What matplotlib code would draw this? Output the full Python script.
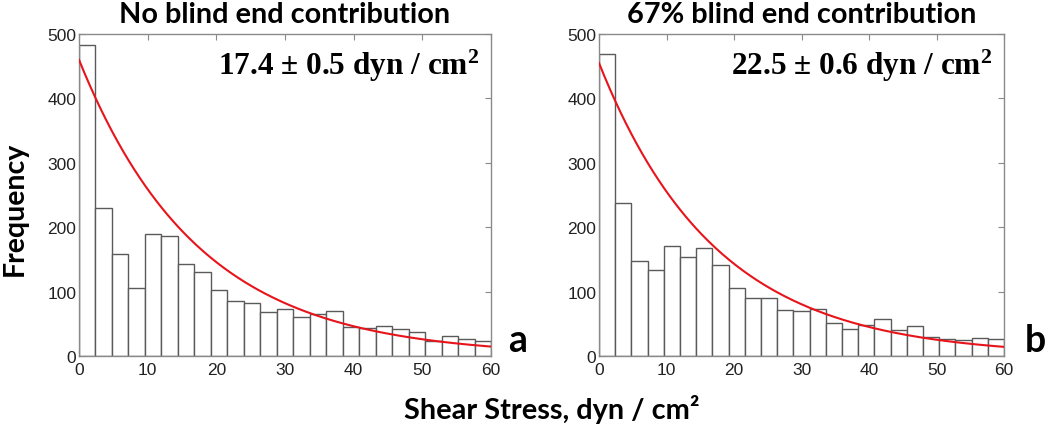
import numpy as np
import matplotlib
matplotlib.use('Agg')
import matplotlib.pyplot as plt

# histogram counts (25 bins of 2.4 dyn/cm2 between 0 and 60)
counts_a = [483, 230, 158, 105, 189, 186, 143, 130, 102, 85, 82, 68, 73,
            60, 65, 70, 45, 43, 46, 42, 37, 23, 31, 27, 24]
counts_b = [469, 237, 147, 133, 171, 154, 168, 142, 105, 90, 90, 72, 70,
            73, 51, 42, 48, 57, 40, 46, 30, 27, 25, 28, 27]

# exponential fit curves (amplitude, decay constant)
fit_a = (460, 17.4)
fit_b = (455, 17.3)

titles = ['No blind end contribution', '67% blind end contribution']
means = ['17.4 \u00b1 0.5 dyn / cm$^2$', '22.5 \u00b1 0.6 dyn / cm$^2$']
letters = ['a', 'b']

plt.rcParams['mathtext.fontset'] = 'custom'
plt.rcParams['mathtext.rm'] = 'Liberation Serif:bold'
plt.rcParams['mathtext.bf'] = 'Liberation Serif:bold'
plt.rcParams['mathtext.it'] = 'Liberation Serif:bold'

W, H = 1050, 427
fig = plt.figure(figsize=(W / 100, H / 100), dpi=100)

boxes = [(79, 412), (599, 405)]
edges = np.linspace(0, 60, 26)
spine_col = '#8a8a8a'

for i, counts in enumerate([counts_a, counts_b]):
    x0, w = boxes[i]
    ax = fig.add_axes([x0 / W, 70 / H, w / W, 322 / H])
    ax.bar(edges[:-1], counts, width=edges[1] - edges[0], align='edge',
           color='white', edgecolor='#5a5a5a', linewidth=1.0, zorder=2)
    amp, tau = [fit_a, fit_b][i]
    xs = np.linspace(0, 60, 300)
    ax.plot(xs, amp * np.exp(-xs / tau), color='#e8141b', lw=1.5, zorder=3)
    ax.set_xlim(0, 60)
    ax.set_ylim(0, 500)
    ax.set_xticks(range(0, 61, 10))
    ax.set_yticks(range(0, 501, 100))
    ax.tick_params(direction='in', top=True, right=True, length=4,
                   color=spine_col, labelsize=12.5)
    ax.tick_params(axis='x', pad=4)
    ax.tick_params(axis='y', pad=2)
    for lab in ax.get_xticklabels() + ax.get_yticklabels():
        lab.set_fontfamily('Liberation Sans')
        lab.set_color('#222222')
    for s in ax.spines.values():
        s.set_color(spine_col)
        s.set_linewidth(1.0)
    ax.set_title(titles[i], fontsize=20.8, fontweight='bold', family='Lato', pad=9)
    ax.text(0.972, 0.876, means[i], transform=ax.transAxes, ha='right',
            va='baseline', fontsize=22.5, fontweight='bold',
            family='Liberation Serif')

fig.text(508 / W, 1 - 352 / H, letters[0], fontsize=27, fontweight='bold',
         family='Lato', va='baseline', ha='left')
fig.text(1025 / W, 1 - 352 / H, letters[1], fontsize=27, fontweight='bold',
         family='Lato', va='baseline', ha='left')
fig.text(15 / W, 1 - 209 / H, 'Frequency', rotation=90, fontsize=20.5,
         fontweight='bold', family='Lato', ha='center', va='center')
fig.text(552 / W, 1 - 410 / H, 'Shear Stress, dyn / cm\u00b2', fontsize=20.8,
         fontweight='bold', family='Lato', ha='center', va='center')

fig.savefig('out.png', dpi=100)
